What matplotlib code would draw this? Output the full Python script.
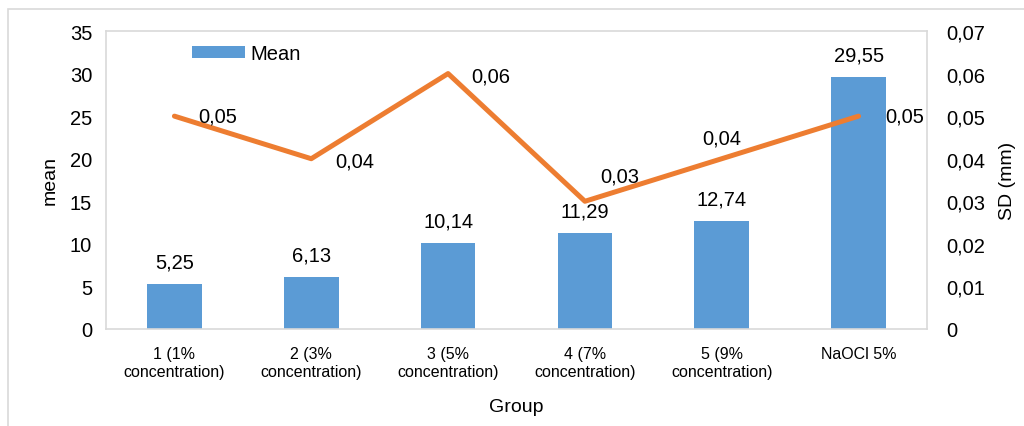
import matplotlib.pyplot as plt
from matplotlib.patches import Rectangle
from matplotlib.ticker import FuncFormatter

plt.rcParams['font.family'] = ['Liberation Sans', 'DejaVu Sans']

# Data
groups = ['1 (1%\nconcentration)', '2 (3%\nconcentration)', '3 (5%\nconcentration)',
          '4 (7%\nconcentration)', '5 (9%\nconcentration)', 'NaOCl 5%']
mean_vals = [5.25, 6.13, 10.14, 11.29, 12.74, 29.55]
sd_vals = [0.05, 0.04, 0.06, 0.03, 0.04, 0.05]

# label offsets (points) for the SD labels, roughly as placed in the original
sd_offsets = [(31, 0), (31, -2), (31, -2), (25, 18), (0, 15), (33, 0)]

bar_color = '#5B9BD5'
line_color = '#ED7D31'

fig = plt.figure(figsize=(10.24, 4.27), dpi=100)
fig.patches.append(Rectangle((8 / 1024, -0.1), 1.1, 1 - 10 / 427 + 0.1, transform=fig.transFigure,
                             fill=False, edgecolor='#D9D9D9', linewidth=1.2))

ax = fig.add_axes([106 / 1024, 1 - 330 / 427, (927 - 106) / 1024, (330 - 32) / 427])
x = range(len(groups))
ax.bar(x, mean_vals, width=0.4, color=bar_color, label='Mean', zorder=2)
ax.set_ylim(0, 35)
ax.set_xlim(-0.5, len(groups) - 0.5)
ax.set_yticks(range(0, 36, 5))
ax.set_xticks(list(x))
ax.set_xticklabels(groups, fontsize=11.5, linespacing=1.25)
ax.tick_params(axis='y', labelsize=14.5, length=0, pad=10)
ax.tick_params(axis='x', length=0, pad=12)
ax.set_ylabel('mean', fontsize=14, labelpad=8)
ax.set_xlabel('Group', fontsize=14, labelpad=14)
for s in ax.spines.values():
    s.set_color('#D9D9D9')
    s.set_linewidth(1.2)

for xi, v in zip(x, mean_vals):
    ax.annotate(f'{v:.2f}'.replace('.', ','), (xi, v), xytext=(0, 9), textcoords='offset points',
                ha='center', va='bottom', fontsize=14.5)

ax2 = ax.twinx()
ax2.plot(list(x), sd_vals, color=line_color, linewidth=3.6, solid_capstyle='round', zorder=3)
ax2.set_ylim(0, 0.07)
ax2.set_yticks([i / 100 for i in range(8)])
ax2.yaxis.set_major_formatter(FuncFormatter(lambda v, p: '0' if v == 0 else f'{v:.2f}'.replace('.', ',')))
ax2.tick_params(axis='y', labelsize=14.5, length=0, pad=14)
ax2.set_ylabel('SD (mm)', fontsize=14, labelpad=10)
for s in ax2.spines.values():
    s.set_visible(False)

for xi, v, off in zip(x, sd_vals, sd_offsets):
    ax2.annotate(f'{v:.2f}'.replace('.', ','), (xi, v), xytext=off, textcoords='offset points',
                 ha='center', va='center', fontsize=14.5)

ax.legend(loc='upper left', bbox_to_anchor=(0.083, 1.017), frameon=False, fontsize=14.5,
          handlelength=2.6, handleheight=0.5, handletextpad=0.3)

fig.savefig('out.png', dpi=100)
